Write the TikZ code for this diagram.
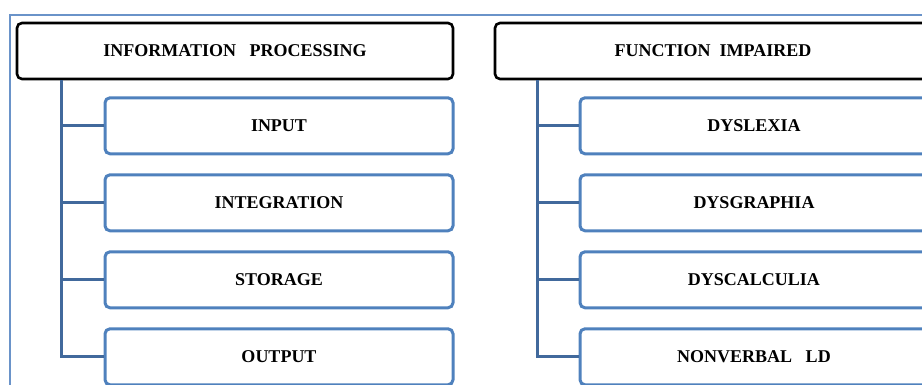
\documentclass[tikz,border=0pt]{standalone}
\usepackage{fontspec}
\setmainfont{Liberation Serif}
\usetikzlibrary{positioning, calc}
\definecolor{boxblue}{HTML}{4F81BD}
\definecolor{treeblue}{HTML}{41699C}
\definecolor{frameblue}{HTML}{6A93C9}

\begin{document}
\begin{tikzpicture}[
    x=1pt, y=1pt,
    node distance=18pt,
    head/.style={draw=black, line width=2.6pt, rounded corners=5pt, minimum width=436pt, minimum height=56pt, font=\fontsize{18}{20}\selectfont\bfseries, align=center},
    item/.style={draw=boxblue, line width=3pt, rounded corners=5pt, minimum width=348pt, minimum height=56pt, font=\fontsize{18}{20}\selectfont\bfseries, align=center},
    link/.style={draw=treeblue, line width=3pt},
]
\useasboundingbox (0,0) rectangle (922,385);
\clip (0,0) rectangle (922,385);

% Outer frame
\draw[frameblue, line width=1.2pt] (10,-5) -- (10,370) -- (935,370);

% Information processing
\node[head] (ip) at (235,334) {INFORMATION~~~PROCESSING};
\node[item, below=16pt of ip, xshift=44pt] (in) {INPUT};
\node[item, below=of in] (integ) {INTEGRATION};
\node[item, below=of integ] (stor) {STORAGE};
\node[item, below=of stor] (outp) {OUTPUT};

\coordinate (ipt) at ($(ip.south west)+(46pt,0)$);
\foreach \c in {in, integ, stor, outp} {
    \draw[link] (ipt) |- (\c.west);
}

% Function impaired
\node[head] (fi) at (713,334) {FUNCTION~~IMPAIRED};
\node[item, below=16pt of fi, xshift=41pt] (dlex) {DYSLEXIA};
\node[item, below=of dlex] (dgra) {DYSGRAPHIA};
\node[item, below=of dgra] (dcal) {DYSCALCULIA};
\node[item, below=of dcal] (nvld) {NONVERBAL~~~LD};

\coordinate (fit) at ($(fi.south west)+(44pt,0)$);
\foreach \c in {dlex, dgra, dcal, nvld} {
    \draw[link] (fit) |- (\c.west);
}

\end{tikzpicture}
\end{document}
